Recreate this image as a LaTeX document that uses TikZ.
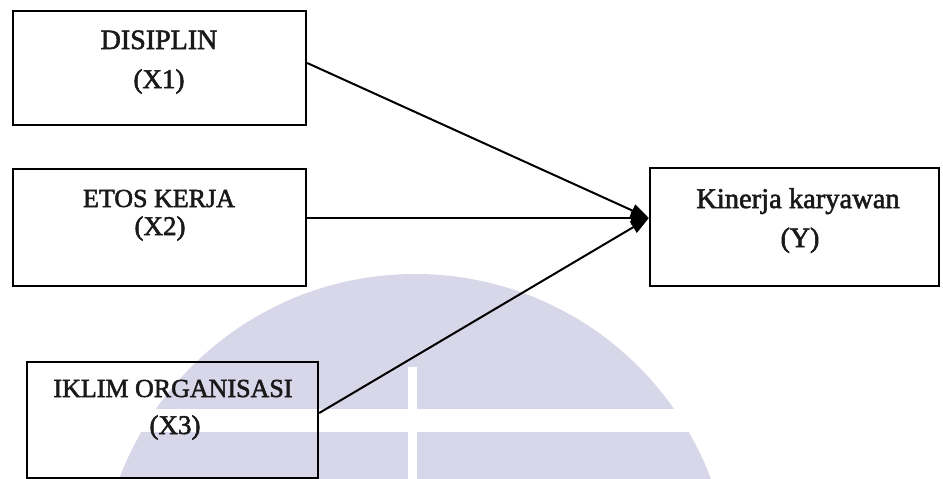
\documentclass[tikz,border=0pt]{standalone}
\usepackage{fontspec}
\setmainfont{Liberation Serif}
\newfontfamily\inkfont[FakeBold=2]{Liberation Serif}
\usetikzlibrary{arrows.meta}
\definecolor{wmark}{RGB}{216,215,233}
\begin{document}
\begin{tikzpicture}[x=1pt,y=-1pt,
  box/.style={draw, line width=2.4pt, rectangle, inner sep=0pt},
  lbl/.style={anchor=base, inner sep=0pt, text=black!90, font=\inkfont\fontsize{#1}{#1}\selectfont},
  lbl/.default=27,
  arr/.style={line width=2pt, -{Triangle[length=18pt,width=13pt]}}]
  % page
  \fill[white] (0,0) rectangle (943,479);
  \useasboundingbox (0,0) rectangle (943,479);
  % background emblem
  \begin{scope}
    \clip (0,0) rectangle (943,479);
    \fill[wmark] (415,590) circle[radius=316pt];
    \fill[white] (0,409) rectangle (943,432);
    \fill[white] (408,367) rectangle (417,479);
  \end{scope}
  % variable boxes
  \node[box, minimum width=293pt, minimum height=114pt] (x1) at (159.5,68) {};
  \node[box, minimum width=293pt, minimum height=117pt] (x2) at (159.5,227.5) {};
  \node[box, minimum width=291pt, minimum height=116pt] (x3) at (172.5,420) {};
  \node[box, minimum width=289pt, minimum height=118pt] (ky) at (794.5,227) {};
  % labels
  \node[lbl=28] (x1a) at (159,49) {DISIPLIN};
  \node[lbl=27] (x1b) at (159,88) {(X1)};
  \node[lbl=26] (x2a) at (159,207) {ETOS KERJA};
  \node[lbl=27] (x2b) at (160,235) {(X2)};
  \node[lbl=26] (x3a) at (173,397) {IKLIM ORGANISASI};
  \node[lbl=27] (x3b) at (175,434) {(X3)};
  \node[lbl=28.5] (kya) at (798,208) {Kinerja karyawan};
  \node[lbl=28] (kyb) at (800,247) {(Y)};
  % influence arrows
  \coordinate (yin) at ([yshift=9pt]ky.west);
  \draw[arr] ([yshift=5pt]x1.east) -- (yin);
  \draw[arr] ([yshift=9.5pt]x2.east) -- (yin);
  \draw[arr] ([yshift=7pt]x3.east) -- (yin);
\end{tikzpicture}
\end{document}
